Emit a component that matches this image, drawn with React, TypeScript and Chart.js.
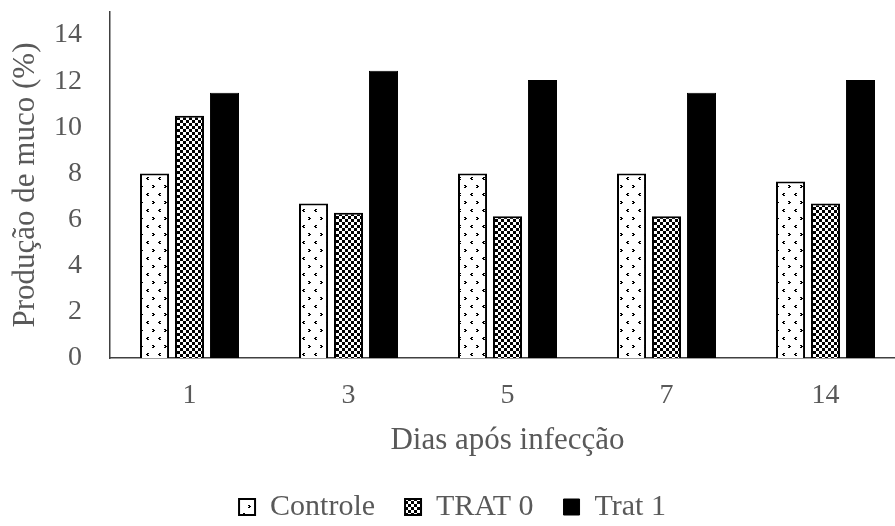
import React, { useEffect, useRef } from "react";
import { Chart, registerables } from "chart.js";

Chart.register(...registerables);

const categories = ["1", "3", "5", "7", "14"];
const controle = [8.0, 6.7, 8.0, 8.0, 7.65];
const trat0 = [10.5, 6.3, 6.15, 6.15, 6.7];
const trat1 = [11.5, 12.45, 12.05, 11.5, 12.05];
const yTicks = [0, 2, 4, 6, 8, 10, 12, 14];
const seriesNames = ["Controle", "TRAT 0", "Trat 1"];

const FONT = "'Liberation Serif', 'Times New Roman', serif";
const TEXT = "#595959";

function makeDotPattern(ctx: CanvasRenderingContext2D): CanvasPattern | string {
  const c = document.createElement("canvas");
  c.width = 12;
  c.height = 16;
  const g = c.getContext("2d");
  if (!g) return "#fff";
  g.fillStyle = "#fff";
  g.fillRect(0, 0, 12, 16);
  g.fillStyle = "#000";
  // "<" mark
  g.fillRect(3, 1, 2, 1);
  g.fillRect(2, 2, 2, 1);
  g.fillRect(3, 3, 2, 1);
  // ">" mark
  g.fillRect(8, 9, 2, 1);
  g.fillRect(9, 10, 2, 1);
  g.fillRect(8, 11, 2, 1);
  const p = ctx.createPattern(c, "repeat");
  return p || "#fff";
}

function makeCheckPattern(ctx: CanvasRenderingContext2D): CanvasPattern | string {
  const c = document.createElement("canvas");
  c.width = 6;
  c.height = 6;
  const g = c.getContext("2d");
  if (!g) return "#444";
  g.fillStyle = "#fff";
  g.fillRect(0, 0, 6, 6);
  g.fillStyle = "#000";
  g.fillRect(0, 0, 3, 3);
  g.fillRect(3, 3, 3, 3);
  const p = ctx.createPattern(c, "repeat");
  return p || "#444";
}

export default function App() {
  const ref = useRef<HTMLCanvasElement | null>(null);

  useEffect(() => {
    const canvas = ref.current;
    if (!canvas) return;
    const ctx = canvas.getContext("2d");
    if (!ctx) return;
    const dots = makeDotPattern(ctx);
    const checks = makeCheckPattern(ctx);

    const chart = new Chart(ctx, {
      type: "bar",
      data: {
        labels: categories,
        datasets: [
          {
            label: seriesNames[0],
            data: controle,
            backgroundColor: dots as any,
            borderColor: "#000",
            borderWidth: 2,
            categoryPercentage: 0.66,
            barPercentage: 0.83,
          },
          {
            label: seriesNames[1],
            data: trat0,
            backgroundColor: checks as any,
            borderColor: "#000",
            borderWidth: 2,
            categoryPercentage: 0.66,
            barPercentage: 0.83,
          },
          {
            label: seriesNames[2],
            data: trat1,
            backgroundColor: "#000",
            borderColor: "#000",
            borderWidth: 1,
            categoryPercentage: 0.66,
            barPercentage: 0.83,
          },
        ],
      },
      options: {
        responsive: false,
        animation: false,
        layout: { padding: { top: 12, right: 7, left: 0, bottom: -6 } },
        plugins: {
          tooltip: { enabled: false },
          legend: {
            position: "bottom",
            labels: {
              boxWidth: 16,
              boxHeight: 16,
              padding: 30,
              color: TEXT,
              font: { family: FONT, size: 30 },
            },
          },
        },
        scales: {
          x: {
            grid: { display: false, drawTicks: false },
            border: { display: true, color: "#404040", width: 1.5 },
            ticks: {
              color: TEXT,
              padding: 21,
              font: { family: FONT, size: 28 },
            },
            title: {
              display: true,
              text: "Dias após infecção",
              color: TEXT,
              font: { family: FONT, size: 31 },
              padding: { top: 0, bottom: 3 },
            },
            afterFit: (scale: any) => {
              scale.height = 104;
              scale.paddingLeft = 0;
              scale.paddingRight = 0;
            },
          },
          y: {
            min: 0,
            max: 15,
            grid: { display: false, drawTicks: false },
            border: { display: true, color: "#404040", width: 1.5 },
            ticks: {
              stepSize: 2,
              color: TEXT,
              padding: 28,
              font: { family: FONT, size: 28 },
            },
            afterBuildTicks: (scale: any) => {
              scale.ticks = yTicks.map((v) => ({ value: v }));
            },
            title: {
              display: true,
              text: "Produção de muco (%)",
              color: TEXT,
              font: { family: FONT, size: 31 },
              padding: { top: 7, bottom: 0 },
            },
            afterFit: (scale: any) => {
              scale.width = 110;
              scale.paddingTop = 0;
              scale.paddingBottom = 0;
            },
          },
        },
      },
    });
    return () => chart.destroy();
  }, []);

  return (
    <div
      style={{
        position: "fixed",
        left: 0,
        top: 0,
        width: 895,
        height: 526,
        overflow: "hidden",
        background: "#fff",
      }}
    >
      <canvas ref={ref} width={912} height={526} style={{ display: "block" }} />
    </div>
  );
}
